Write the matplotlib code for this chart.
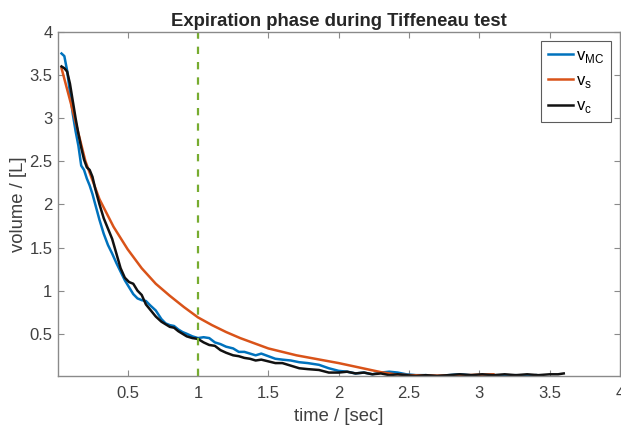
import matplotlib
matplotlib.use("Agg")
import matplotlib.pyplot as plt

plt.rcParams['font.family'] = ['Liberation Sans', 'DejaVu Sans']
plt.rcParams['mathtext.fontset'] = 'custom'
plt.rcParams['mathtext.rm'] = 'Liberation Sans'

# measured flow volume (blue)
t_mc = [0.03, 0.05, 0.07, 0.09, 0.11, 0.13, 0.15, 0.17, 0.19, 0.21,
        0.23, 0.25, 0.27, 0.30, 0.33, 0.36, 0.39, 0.42, 0.45, 0.48,
        0.51, 0.54, 0.57, 0.60, 0.63, 0.66, 0.70, 0.74, 0.77, 0.80,
        0.83, 0.86, 0.89, 0.92, 0.96, 1.00, 1.04, 1.08, 1.12, 1.16,
        1.20, 1.25, 1.29, 1.33, 1.37, 1.41, 1.45, 1.50, 1.55, 1.60,
        1.66, 1.72, 1.78, 1.86, 1.93, 2.00, 2.06, 2.12, 2.18, 2.24,
        2.30, 2.36, 2.42, 2.48, 2.55, 2.62, 2.70, 2.78, 2.86, 2.94,
        3.02, 3.10, 3.18, 3.26, 3.34, 3.40]
v_mc = [3.75, 3.72, 3.55, 3.30, 3.05, 2.85, 2.68, 2.45, 2.40, 2.30,
        2.22, 2.12, 2.00, 1.82, 1.66, 1.53, 1.43, 1.32, 1.22, 1.12,
        1.04, 0.96, 0.91, 0.89, 0.88, 0.83, 0.77, 0.67, 0.62, 0.60,
        0.59, 0.55, 0.52, 0.50, 0.47, 0.45, 0.46, 0.45, 0.40, 0.38,
        0.35, 0.33, 0.29, 0.29, 0.27, 0.25, 0.27, 0.24, 0.21, 0.20,
        0.19, 0.17, 0.16, 0.14, 0.10, 0.07, 0.06, 0.04, 0.05, 0.03,
        0.05, 0.06, 0.05, 0.03, 0.02, 0.02, 0.01, 0.02, 0.03, 0.02,
        0.01, 0.02, 0.01, 0.02, 0.01, 0.02]

# model (orange)
t_s = [0.03, 0.10, 0.20, 0.30, 0.40, 0.50, 0.60, 0.70, 0.80, 0.90,
       1.00, 1.10, 1.20, 1.30, 1.40, 1.50, 1.60, 1.70, 1.80, 1.90,
       2.00, 2.10, 2.20, 2.30, 2.40, 2.50, 2.70, 2.90, 3.10]
v_s = [3.58, 3.15, 2.50, 2.06, 1.74, 1.48, 1.26, 1.08, 0.94, 0.81,
       0.69, 0.60, 0.52, 0.45, 0.39, 0.33, 0.29, 0.25, 0.22, 0.19,
       0.16, 0.125, 0.09, 0.055, 0.03, 0.02, 0.015, 0.02, 0.03]

# computed (black)
t_c = [0.03, 0.05, 0.07, 0.09, 0.11, 0.13, 0.15, 0.17, 0.19, 0.21,
       0.23, 0.25, 0.27, 0.30, 0.33, 0.36, 0.39, 0.42, 0.45, 0.48,
       0.51, 0.54, 0.57, 0.60, 0.63, 0.66, 0.70, 0.74, 0.77, 0.80,
       0.83, 0.86, 0.89, 0.92, 0.96, 1.00, 1.04, 1.08, 1.12, 1.16,
       1.20, 1.25, 1.29, 1.33, 1.37, 1.41, 1.45, 1.50, 1.55, 1.60,
       1.66, 1.72, 1.78, 1.86, 1.93, 2.00, 2.06, 2.12, 2.18, 2.24,
       2.30, 2.36, 2.42, 2.48, 2.55, 2.62, 2.70, 2.78, 2.86, 2.94,
       3.02, 3.10, 3.18, 3.26, 3.34, 3.42, 3.50, 3.56, 3.60]
v_c = [3.60, 3.58, 3.54, 3.40, 3.20, 3.00, 2.82, 2.66, 2.52, 2.43,
       2.40, 2.32, 2.18, 2.00, 1.84, 1.72, 1.60, 1.43, 1.26, 1.15,
       1.10, 1.08, 1.00, 0.95, 0.84, 0.78, 0.70, 0.64, 0.61, 0.58,
       0.57, 0.53, 0.50, 0.47, 0.45, 0.44, 0.40, 0.37, 0.36, 0.31,
       0.28, 0.25, 0.24, 0.22, 0.21, 0.19, 0.20, 0.18, 0.16, 0.16,
       0.13, 0.10, 0.09, 0.08, 0.05, 0.05, 0.06, 0.04, 0.05, 0.03,
       0.04, 0.02, 0.03, 0.02, 0.01, 0.02, 0.01, 0.02, 0.03, 0.02,
       0.03, 0.02, 0.03, 0.02, 0.03, 0.02, 0.03, 0.03, 0.04]

t_mark = 1.0
xticks = [0.5, 1, 1.5, 2, 2.5, 3, 3.5, 4]
yticks = [0.5, 1, 1.5, 2, 2.5, 3, 3.5, 4]

fig = plt.figure(figsize=(6.21, 4.29), dpi=100)
ax = fig.add_axes([0.0934, 0.1235, 0.905, 0.802])

ax.plot(t_mc, v_mc, color='#0072BD', lw=1.8, label=r'v$_{\mathrm{MC}}$')
ax.plot(t_s, v_s, color='#D95319', lw=1.8, label=r'v$_{\mathrm{s}}$')
ax.plot(t_c, v_c, color='#111111', lw=1.8, label=r'v$_{\mathrm{c}}$')
ax.axvline(t_mark, color='#77AC30', lw=1.6, ls=(0, (3.3, 3.6)))

ax.set_xlim(0.005, 4)
ax.set_ylim(0.01, 4)
ax.set_xticks(xticks)
ax.set_yticks(yticks)
ax.set_xticklabels([f'{v:g}' for v in xticks])
ax.set_yticklabels([f'{v:g}' for v in yticks])

grey = '#8a8a8a'
for s in ax.spines.values():
    s.set_color(grey)
    s.set_linewidth(1.0)
ax.tick_params(direction='in', top=True, right=True, length=4, color=grey,
               labelsize=12, labelcolor='#404040')
ax.tick_params(axis='x', pad=7)
ax.tick_params(axis='y', pad=4)

ax.set_xlabel('time / [sec]', fontsize=13.3, color='#404040', labelpad=5)
ax.set_ylabel('volume / [L]', fontsize=13.3, color='#404040', labelpad=2)
ax.set_title('Expiration phase during Tiffeneau test', fontsize=13.3,
             fontweight='bold', color='#262626', pad=4)

leg = ax.legend(loc='upper right', fontsize=12, frameon=True, fancybox=False,
                handlelength=1.5, handletextpad=0.2, borderpad=0.4,
                labelspacing=0.5, borderaxespad=0.55)
leg.get_frame().set_edgecolor('#333333')
leg.get_frame().set_linewidth(0.8)

fig.savefig('out.png', dpi=100)
